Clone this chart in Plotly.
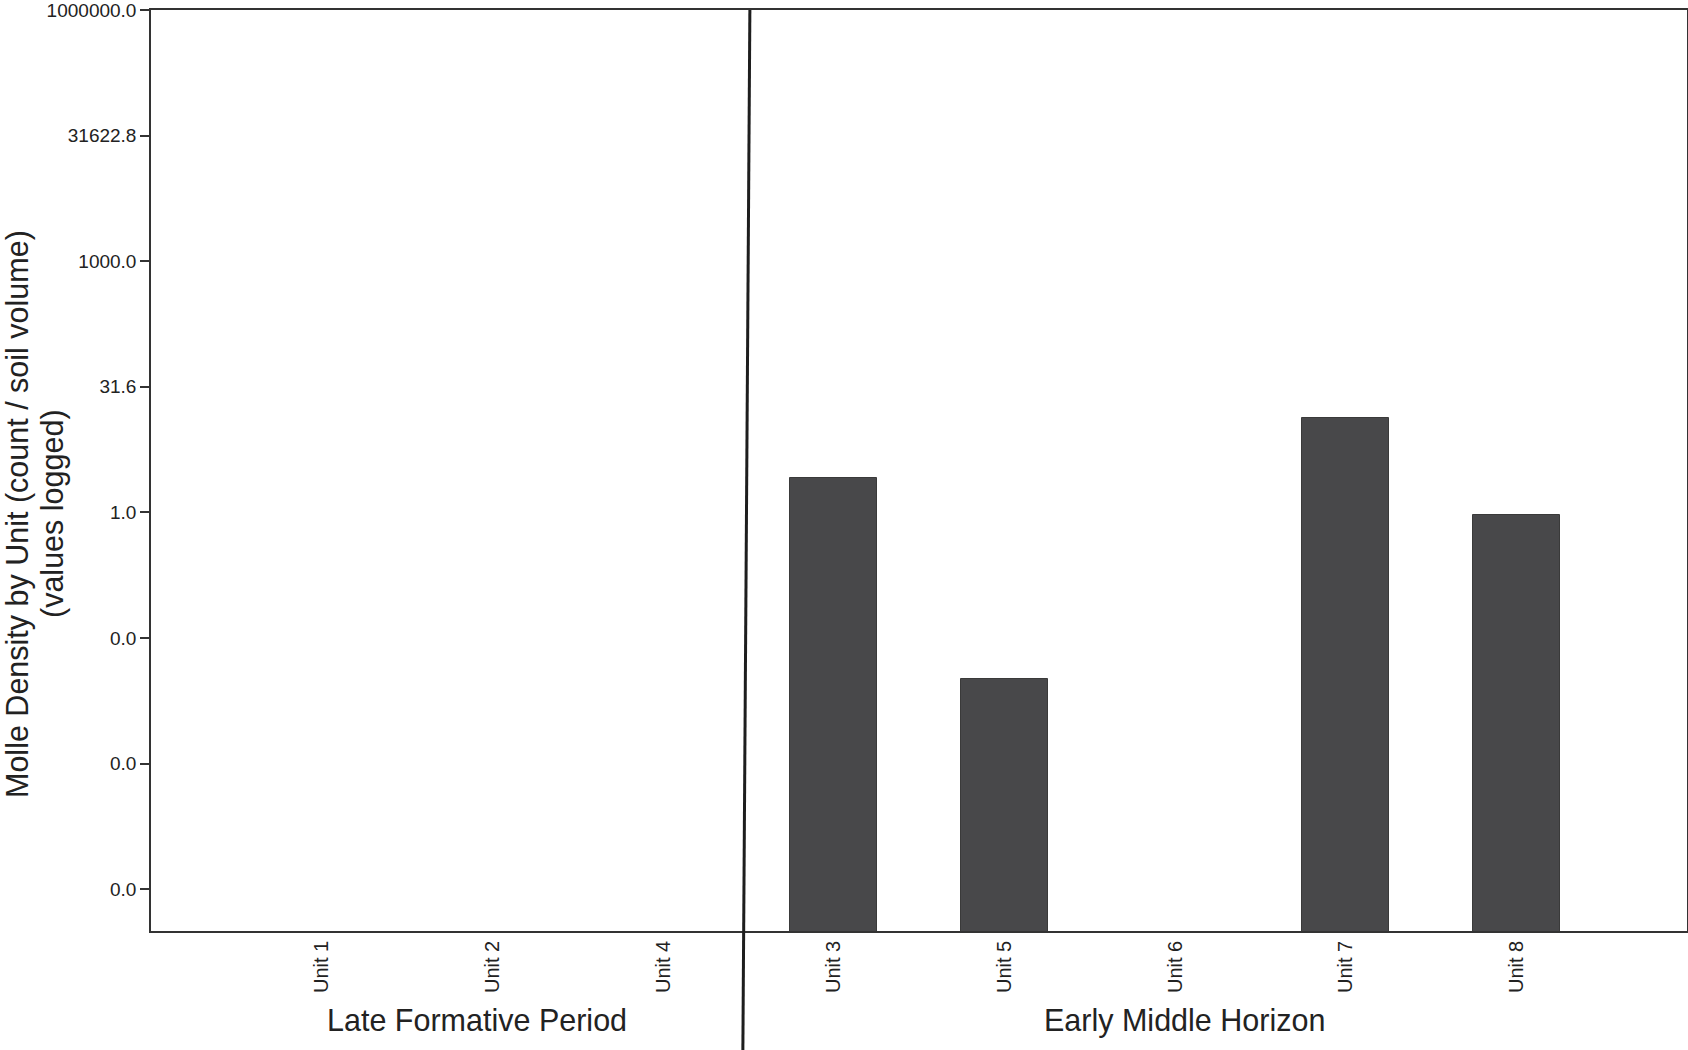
import plotly.graph_objects as go

units = ["Unit 1", "Unit 2", "Unit 4", "Unit 3", "Unit 5", "Unit 6", "Unit 7", "Unit 8"]
density = [None, None, None, 2.58, 0.0103, None, 13.4, 0.92]
tick_vals = [10**-4.5, 10**-3, 10**-1.5, 1, 10**1.5, 10**3, 10**4.5, 10**6]
tick_text = ["0.0", "0.0", "0.0", "1.0", "31.6", "1000.0", "31622.8", "1000000.0"]
groups = ["Late Formative Period", "Early Middle Horizon"]
group_pos = [0.91, 5.055]
title_lines = ["Molle Density by Unit (count / soil volume)", "(values logged)"]

FONT = "Liberation Sans, Arial, sans-serif"
INK = "#222222"

fig = go.Figure()
fig.add_trace(go.Bar(
    x=list(range(len(units))), y=density, width=0.51,
    marker=dict(color="#48484a", line=dict(color="#3a3a3a", width=1)),
    showlegend=False, hoverinfo="skip",
))

W, H = 1688, 1050
L, R, T, B = 151, 1, 10, 119
ph = H - T - B
pw = W - L - R

fig.update_layout(
    template="none",
    width=W, height=H,
    margin=dict(l=L, r=R, t=T, b=B, autoexpand=False),
    paper_bgcolor="white", plot_bgcolor="white",
    font=dict(family=FONT, color=INK),
    bargap=0,
    xaxis=dict(
        range=[-1, 8], tickmode="array", tickvals=list(range(len(units))), ticktext=units,
        tickangle=-90, tickfont=dict(size=20, family=FONT, color=INK),
        showgrid=False, zeroline=False, showline=True, linecolor="#333333", linewidth=1.5,
        mirror=True, ticks="", ticklabelstandoff=0, automargin=False,
        ticklabeloverflow="allow",
    ),
    yaxis=dict(
        type="log", range=[-5, 6], tickmode="array", tickvals=tick_vals, ticktext=tick_text,
        tickfont=dict(size=19, family=FONT, color=INK),
        showgrid=False, zeroline=False, showline=True, linecolor="#333333", linewidth=1.5,
        mirror=True, ticks="outside", ticklen=9, tickwidth=1.5, tickcolor="#333333",
        automargin=False, ticklabeloverflow="allow",
    ),
)

for g, p in zip(groups, group_pos):
    fig.add_annotation(
        text=g, x=p, xref="x", y=(T + ph - 1020) / ph, yref="paper",
        showarrow=False, xanchor="center", yanchor="middle",
        font=dict(size=30.5, family=FONT, color=INK),
    )

for line, xpx in zip(title_lines, [17, 52]):
    fig.add_annotation(
        text=line, textangle=-90, x=(xpx - L) / pw, xref="paper",
        y=(T + ph - 514) / ph, yref="paper",
        showarrow=False, xanchor="center", yanchor="middle",
        font=dict(size=30.5, family=FONT, color=INK),
    )

fig.add_shape(
    type="line", xref="x", yref="paper",
    x0=2.509, y0=1, x1=2.468, y1=(T + ph - 1050) / ph,
    line=dict(color="#1e1e1e", width=3), layer="above",
)

fig.write_html(
    "out.html",
    config={"displayModeBar": False},
    post_script="document.body.style.margin='0';document.body.style.overflow='hidden';",
)
